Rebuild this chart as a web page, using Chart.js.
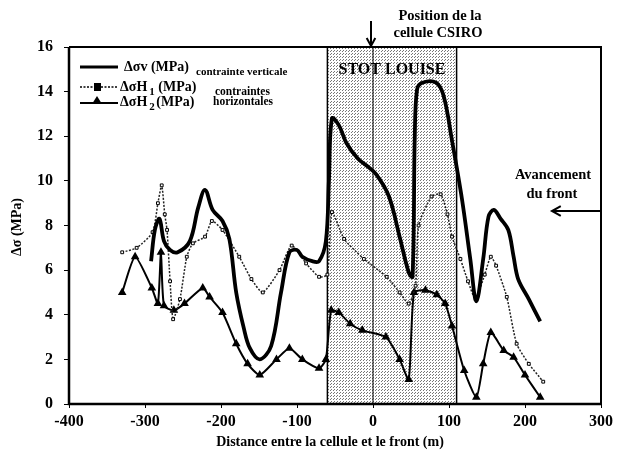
<!DOCTYPE html>
<html>
<head>
<meta charset="utf-8">
<script src="https://cdn.jsdelivr.net/npm/chart.js@4/dist/chart.umd.min.js"></script>
<style>
  html, body { margin: 0; padding: 0; background: #fff; }
  #wrap { width: 617px; height: 460px; }
</style>
</head>
<body>
<div id="wrap"><canvas id="chart"></canvas></div>
<script>
// distances (m) and stresses (MPa)
const vDist = [-292, -287, -281, -275, -267, -257, -241, -230, -221, -211, -198, -189, -180, -170, -162, -149, -134, -121, -110, -100, -93, -80, -71, -62, -58, -54, -45, -35, -20, -9, 4, 21, 35, 47, 52, 55, 58, 65, 83, 93, 104, 117, 128, 136, 145, 152, 159, 168, 178, 185, 191, 205, 220];
const vStress = [6.4, 7.8, 8.3, 7.3, 6.9, 6.8, 7.3, 8.8, 9.6, 8.7, 8.2, 7.4, 5.0, 3.4, 2.5, 2.0, 2.6, 5.0, 6.8, 6.9, 6.6, 6.4, 6.4, 7.3, 10.0, 12.8, 12.5, 11.7, 11.0, 10.7, 10.3, 9.3, 7.5, 5.9, 5.7, 12.0, 14.1, 14.4, 14.4, 13.8, 11.8, 9.2, 6.5, 4.6, 6.5, 8.4, 8.7, 8.3, 7.8, 6.6, 5.6, 4.7, 3.7];

const h1Dist = [-330, -311, -290, -283, -278, -274, -271, -267, -263, -254, -245, -237, -221, -212, -198, -176, -160, -145, -123, -107, -88, -71, -60, -54, -38, -12, 18, 35, 47, 56, 60, 77, 89, 98, 104, 115, 125, 135, 147, 155, 162, 176, 189, 205, 224];
const h1Stress = [6.8, 7.0, 7.7, 9.0, 9.8, 8.5, 7.8, 5.5, 3.8, 4.7, 6.6, 7.2, 7.5, 8.2, 7.8, 6.6, 5.6, 5.0, 6.0, 7.1, 6.3, 5.7, 5.8, 8.6, 7.4, 6.5, 5.7, 5.0, 4.5, 5.3, 8.0, 9.3, 9.4, 8.5, 7.5, 6.5, 5.5, 4.7, 5.8, 6.6, 6.2, 4.8, 2.7, 1.8, 1.0];

const h2Dist = [-330, -313, -291, -283, -279, -275, -262, -248, -224, -215, -198, -180, -165, -149, -127, -110, -93, -71, -62, -55, -45, -30, -14, 17, 35, 47, 54, 69, 84, 95, 104, 120, 136, 145, 155, 172, 185, 200, 220];
const h2Stress = [5.0, 6.6, 5.2, 4.5, 6.8, 4.4, 4.2, 4.5, 5.2, 4.8, 4.1, 2.7, 1.8, 1.3, 2.0, 2.5, 2.0, 1.6, 2.0, 4.2, 4.1, 3.6, 3.3, 3.0, 2.0, 1.1, 5.0, 5.1, 4.9, 4.5, 3.5, 1.5, 0.3, 1.8, 3.2, 2.4, 2.1, 1.3, 0.3];

// Stot Louise zone and cell position
const zoneFrom = -60;
const zoneTo = 110;
const cellPos = 0;

const serif = "'Liberation Serif', 'Times New Roman', serif";

const toPoints = (xs, ys) => xs.map((x, i) => ({ x: x, y: ys[i] }));

// stipple pattern for the shaded zone
const pat = document.createElement('canvas');
pat.width = 3; pat.height = 3;
const pctx = pat.getContext('2d');
pctx.fillStyle = '#fff';
pctx.fillRect(0, 0, 3, 3);
pctx.fillStyle = '#777';
pctx.fillRect(0, 0, 1, 1);
pctx.fillRect(1, 2, 1, 1);

function arrow(ctx, x1, y1, x2, y2, head) {
  const a = Math.atan2(y2 - y1, x2 - x1);
  ctx.beginPath();
  ctx.moveTo(x1, y1);
  ctx.lineTo(x2, y2);
  ctx.moveTo(x2 - head * Math.cos(a - 0.5), y2 - head * Math.sin(a - 0.5));
  ctx.lineTo(x2, y2);
  ctx.lineTo(x2 - head * Math.cos(a + 0.5), y2 - head * Math.sin(a + 0.5));
  ctx.stroke();
}

const zonePlugin = {
  id: 'zone',
  beforeDatasetsDraw(chart) {
    const { ctx, chartArea: a, scales } = chart;
    const l = scales.x.getPixelForValue(zoneFrom);
    const r = scales.x.getPixelForValue(zoneTo);
    const c = scales.x.getPixelForValue(cellPos);
    ctx.save();
    ctx.fillStyle = ctx.createPattern(pat, 'repeat');
    ctx.fillRect(l, a.top, r - l, a.bottom - a.top);
    ctx.strokeStyle = '#000';
    ctx.lineWidth = 1.5;
    ctx.beginPath();
    ctx.moveTo(l, a.top); ctx.lineTo(l, a.bottom);
    ctx.moveTo(r, a.top); ctx.lineTo(r, a.bottom);
    ctx.stroke();
    ctx.lineWidth = 1;
    ctx.beginPath();
    ctx.moveTo(c, a.top); ctx.lineTo(c, a.bottom);
    ctx.stroke();
    ctx.restore();
  },
  afterDraw(chart) {
    const { ctx, chartArea: a, scales } = chart;
    const l = scales.x.getPixelForValue(zoneFrom);
    const r = scales.x.getPixelForValue(zoneTo);
    const c = scales.x.getPixelForValue(cellPos);
    ctx.save();
    ctx.fillStyle = '#000';
    ctx.strokeStyle = '#000';

    // frame
    ctx.lineWidth = 2.5;
    ctx.beginPath();
    ctx.moveTo(a.left, a.top); ctx.lineTo(a.left, a.bottom); ctx.lineTo(a.right, a.bottom);
    ctx.stroke();
    ctx.lineWidth = 2;
    ctx.beginPath();
    ctx.moveTo(a.left, a.top); ctx.lineTo(a.right, a.top); ctx.lineTo(a.right, a.bottom);
    ctx.stroke();

    // zone label
    ctx.textBaseline = 'middle';
    ctx.textAlign = 'center';
    ctx.font = 'bold 16px ' + serif;
    ctx.fillText('STOT LOUISE', (l + r) / 2, a.top + 23);

    // cell position
    ctx.font = 'bold 14.5px ' + serif;
    ctx.fillText('Position de la', 440, 16);
    ctx.fillText('cellule CSIRO', 438, 33);
    ctx.lineWidth = 2;
    arrow(ctx, c - 2, 21, c - 2, a.top - 1, 9);

    // front advance
    ctx.fillText('Avancement', 553, 175);
    ctx.fillText('du front', 552, 194);
    arrow(ctx, a.right, 211, 552, 211, 10);

    // axis titles
    ctx.font = 'bold 14px ' + serif;
    ctx.fillText('Distance entre la cellule et le front (m)', 330, 442);
    ctx.save();
    ctx.translate(17, 227);
    ctx.rotate(-Math.PI / 2);
    ctx.fillText('\u0394\u03c3 (MPa)', 0, 0);
    ctx.restore();

    // legend
    ctx.textAlign = 'left';
    ctx.lineWidth = 3;
    ctx.beginPath(); ctx.moveTo(80, 67); ctx.lineTo(118, 67); ctx.stroke();
    ctx.font = 'bold 14px ' + serif;
    ctx.fillText('\u0394\u03c3v (MPa)', 124, 67);
    ctx.font = 'bold 11px ' + serif;
    ctx.fillText('contrainte verticale', 196, 72);

    ctx.lineWidth = 1.5;
    ctx.setLineDash([2, 1.5]);
    ctx.beginPath(); ctx.moveTo(80, 87); ctx.lineTo(118, 87); ctx.stroke();
    ctx.setLineDash([]);
    ctx.fillRect(94, 83, 7, 8);
    ctx.font = 'bold 14px ' + serif;
    let w = ctx.measureText('\u0394\u03c3H').width;
    ctx.fillText('\u0394\u03c3H', 120, 87);
    ctx.font = 'bold 11px ' + serif;
    ctx.fillText('1', 120 + w + 2, 92);
    ctx.font = 'bold 14px ' + serif;
    ctx.fillText('(MPa)', 120 + w + 11, 87);
    ctx.font = 'bold 11.5px ' + serif;
    ctx.fillText('contraintes', 215, 92);

    ctx.lineWidth = 2;
    ctx.beginPath(); ctx.moveTo(80, 103); ctx.lineTo(118, 103); ctx.stroke();
    ctx.beginPath(); ctx.moveTo(92, 104); ctx.lineTo(97, 96); ctx.lineTo(102, 104); ctx.closePath(); ctx.fill();
    ctx.font = 'bold 14px ' + serif;
    ctx.fillText('\u0394\u03c3H', 120, 102);
    ctx.font = 'bold 11px ' + serif;
    ctx.fillText('2', 120 + w + 2, 107);
    ctx.font = 'bold 14px ' + serif;
    ctx.fillText('(MPa)', 120 + w + 9, 102);
    ctx.font = 'bold 11.5px ' + serif;
    ctx.fillText('horizontales', 213, 102);
    ctx.restore();
  }
};

new Chart(document.getElementById('chart'), {
  type: 'line',
  data: {
    datasets: [
      {
        label: '\u0394\u03c3v (MPa)',
        data: toPoints(vDist, vStress),
        borderColor: '#000',
        borderWidth: 3.8,
        pointRadius: 0,
        tension: 0.35,
        fill: false
      },
      {
        label: '\u0394\u03c3H1 (MPa)',
        data: toPoints(h1Dist, h1Stress),
        borderColor: '#222',
        borderWidth: 1.5,
        borderDash: [2, 1.5],
        pointStyle: 'rect',
        pointRadius: 2,
        pointBackgroundColor: '#fff',
        pointBorderColor: '#000',
        pointBorderWidth: 1,
        tension: 0.2,
        fill: false
      },
      {
        label: '\u0394\u03c3H2 (MPa)',
        data: toPoints(h2Dist, h2Stress),
        borderColor: '#000',
        borderWidth: 2,
        pointStyle: 'triangle',
        pointRadius: 3,
        pointBackgroundColor: '#000',
        pointBorderColor: '#000',
        tension: 0.2,
        fill: false
      }
    ]
  },
  options: {
    responsive: true,
    maintainAspectRatio: false,
    animation: false,
    layout: { padding: { top: 47, right: 14, left: 0, bottom: 0 } },
    plugins: {
      legend: { display: false },
      tooltip: { enabled: false }
    },
    scales: {
      x: {
        type: 'linear',
        min: -400,
        max: 300,
        afterFit: (s) => { s.height = 56; },
        ticks: { stepSize: 100, color: '#000', padding: 4, font: { family: serif, size: 16, weight: 'bold' } },
        grid: { drawOnChartArea: false, tickLength: 4, color: '#000' },
        border: { display: false }
      },
      y: {
        min: 0,
        max: 16,
        afterFit: (s) => { s.width = 69; },
        ticks: { stepSize: 2, color: '#000', padding: 11, font: { family: serif, size: 16, weight: 'bold' } },
        grid: { drawOnChartArea: false, tickLength: 5, color: '#000' },
        border: { display: false }
      }
    }
  },
  plugins: [zonePlugin]
});
</script>
</body>
</html>
